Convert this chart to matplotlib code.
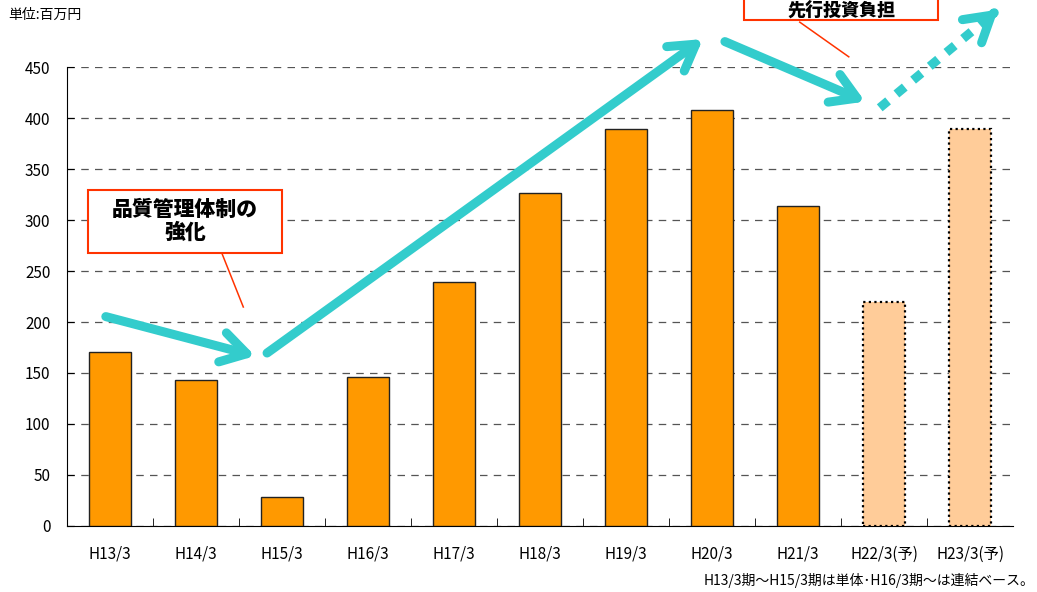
import numpy as np
from matplotlib import pyplot as plt
from matplotlib.patches import FancyArrowPatch, Rectangle

plt.rcParams['font.family'] = ['Noto Sans CJK JP', 'DejaVu Sans']

# data
labels = ['H13/3', 'H14/3', 'H15/3', 'H16/3', 'H17/3', 'H18/3', 'H19/3',
          'H20/3', 'H21/3', 'H22/3(予)', 'H23/3(予)']
values = [171, 143, 28, 146, 239, 326, 389, 408, 314, 220, 389]
forecast = [False] * 9 + [True, True]

# trend arrows (category index, value)
arrows = [((-0.08, 206), (1.72, 166), 'solid'),
          ((1.80, 168), (6.92, 479), 'solid'),
          ((7.12, 476), (8.81, 415), 'solid'),
          ((8.95, 410), (10.35, 508), 'dotted')]

fig = plt.figure(figsize=(10.37, 5.92), dpi=100)
ax = fig.add_axes([0.0646, 0.1115, 0.9123, 0.7753])

x = np.arange(len(labels))
for xi, v, f in zip(x, values, forecast):
    if f:
        ax.bar(xi, v, width=0.49, color='#FFCC99', edgecolor='black',
               linewidth=1.6, linestyle=(0, (1, 1.5)), zorder=3)
    else:
        ax.bar(xi, v, width=0.49, color='#FF9900', edgecolor='#222222',
               linewidth=1.0, zorder=3)

ax.set_xlim(-0.5, len(labels) - 0.5)
ax.set_ylim(0, 450)
ax.set_yticks(np.arange(0, 451, 50))
ax.set_xticks(x)
ax.set_xticklabels(labels, fontsize=11)
ax.set_xticks(np.arange(0.5, len(labels) - 0.5, 1), minor=True)
ax.tick_params(axis='x', which='major', length=0, pad=14)
ax.tick_params(axis='x', which='minor', direction='in', length=6)
ax.tick_params(axis='y', direction='in', length=5, labelsize=11, pad=12)
ax.yaxis.grid(True, linestyle=(0, (6, 5)), color='#555555', linewidth=0.9)
ax.set_axisbelow(True)
for s in ['top', 'right']:
    ax.spines[s].set_visible(False)

# arrows
head = '->,head_length=1.5,head_width=0.9'
for (p0, p1, style) in arrows:
    if style == 'dotted':
        p0a, p1a = np.array(p0), np.array(p1)
        mid = p0a + (p1a - p0a) * 0.93
        ax.plot([p0a[0], mid[0]], [p0a[1], mid[1]], color='#33CCCC',
                linewidth=6.5, linestyle=(0, (1.2, 1.2)), clip_on=False,
                zorder=5)
        a = FancyArrowPatch(tuple(mid), p1, arrowstyle=head, color='#33CCCC',
                            linewidth=6.5, capstyle='round', joinstyle='round',
                            clip_on=False, zorder=5, mutation_scale=12)
    else:
        a = FancyArrowPatch(p0, p1, arrowstyle=head, color='#33CCCC',
                            linewidth=6.5, capstyle='round', joinstyle='round',
                            clip_on=False, zorder=5, mutation_scale=12)
    ax.add_patch(a)

# callout boxes
ax.add_patch(Rectangle((-0.256, 267.6), 2.256, 61.8, facecolor='white',
                       edgecolor='#FF3300', linewidth=1.5, clip_on=False, zorder=6))
ax.text(0.872, 298.5, '品質管理体制の\n強化', ha='center', va='center',
        fontsize=15, fontweight='heavy', linespacing=1.15, zorder=7)
ax.plot([1.30, 1.55], [267.6, 214.7], color='#FF3300', linewidth=1.1,
        clip_on=False, zorder=6)

ax.add_patch(Rectangle((7.37, 496), 2.26, 60, facecolor='white',
                       edgecolor='#FF3300', linewidth=1.5, clip_on=False, zorder=6))
ax.text(8.5, 506, '先行投資負担', ha='center', va='center',
        fontsize=13, fontweight='heavy', zorder=7)
ax.plot([8.02, 8.59], [494, 460], color='#FF3300', linewidth=1.1,
        clip_on=False, zorder=6)

fig.text(0.008, 0.975, '単位:百万円', fontsize=10, va='center', ha='left')
fig.text(0.998, 0.02, 'H13/3期～H15/3期は単体･H16/3期～は連結ベース。',
         fontsize=10, va='center', ha='right')

plt.savefig('out.png', dpi=100)
